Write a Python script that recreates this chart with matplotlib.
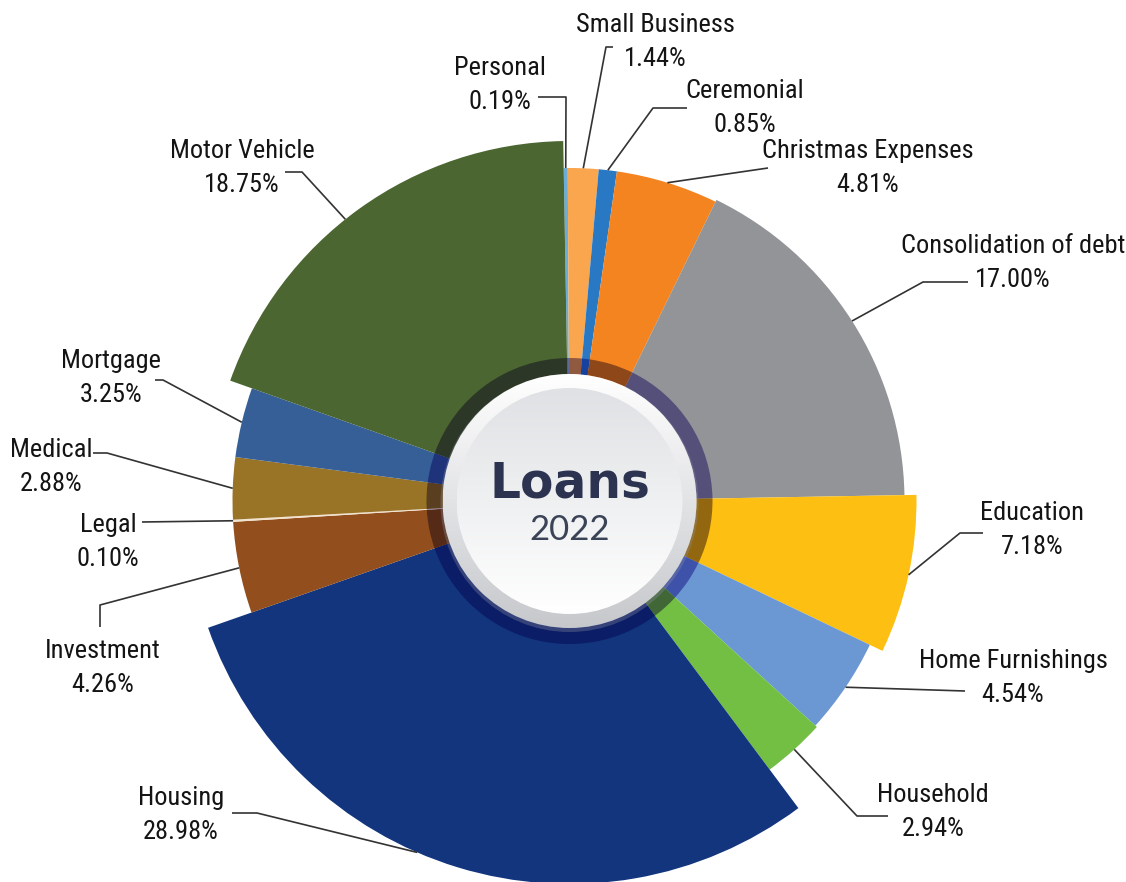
import numpy as np
import matplotlib
matplotlib.use('Agg')
import matplotlib.pyplot as plt
from matplotlib import font_manager as fm
from matplotlib.patches import Circle
from matplotlib.colors import to_rgb

# ── Loan purposes, 2022 (share of total, %) ──────────────────────────────────
categories = ['Personal', 'Small Business', 'Ceremonial', 'Christmas Expenses',
              'Consolidation of debt', 'Education', 'Home Furnishings',
              'Household', 'Housing', 'Investment', 'Legal', 'Medical',
              'Mortgage', 'Motor Vehicle']
shares = [0.19, 1.44, 0.85, 4.81, 17.00, 7.18, 4.54,
          2.94, 28.98, 4.26, 0.10, 2.88, 3.25, 18.75]

slice_colors = ['#6aaed8', '#f9a64f', '#2878c3', '#f4841f', '#929497',
                '#fdbf12', '#6b98d2', '#72bf44', '#12357e', '#924f1d',
                '#f2e3cf', '#9a7426', '#365f97', '#4b6631']

# ── Layout (pixel units, y grows downward) ───────────────────────────────────
W, H = 1126, 882
CX, CY = 569.5, 501
START = -91                      # first slice starts just left of 12 o'clock
outer_r = [333, 333, 333, 333, 335, 347, 333, 335, 383, 337, 337, 337, 337, 360]
RING_IN, RING_OUT = 127, 143
DISC_R, INNER_R = 127, 113

# label baseline of the name line; the value sits one line below
label_xy = [(500, 75), (655, 32), (745, 98), (868, 158), (1013, 253),
            (1032, 520), (1013, 668), (933, 802), (181, 805), (103, 658),
            (108, 532), (51, 457), (111, 368), (242, 158)]
# leader line points before it runs onto the slice edge
leader_pts = [[(538, 97), (566, 97)],
              [(613, 47), (606, 47)],
              [(687, 108), (653, 108)],
              [(768, 168)],
              [(968, 282), (923, 282)],
              [(983, 533), (960, 533)],
              [(965, 691)],
              [(888, 816), (857, 816)],
              [(232, 813), (257, 813)],
              [(100, 627), (100, 605)],
              [(142, 522)],
              [(93, 453), (107, 453)],
              [(155, 380), (163, 380)],
              [(285, 172), (302, 172)]]
# where along each slice's arc its leader lands (0 = start, 1 = end)
anchor_at = [0.5] * len(shares)
anchor_at[categories.index('Housing')] = 0.56
anchor_at[categories.index('Motor Vehicle')] = 0.46


def pick_narrow_font():
    """Find a condensed sans face among the installed fonts."""
    wanted = [('Liberation Sans Narrow', None),
              ('Roboto Condensed', None),
              ('Noto Sans', 'condensed'),
              ('Noto Sans', 'semi-condensed'),
              ('DejaVu Sans', 'condensed'),
              ('Open Sans', 'condensed'),
              ('Open Sans Condensed', None)]
    for name, stretch in wanted:
        for f in fm.fontManager.ttflist:
            if f.name != name or f.style != 'normal':
                continue
            if f.weight not in (400, 'normal', 'regular', 'book'):
                continue
            if stretch is not None and f.stretch != stretch:
                continue
            return fm.FontProperties(fname=f.fname), 19
    return fm.FontProperties(family='Liberation Sans'), 16.5


label_prop, label_size = pick_narrow_font()

fig = plt.figure(figsize=(W / 100, H / 100), dpi=100)
ax = fig.add_axes([0, 0, 1, 1])

wedges, _ = ax.pie(shares, colors=slice_colors, startangle=START,
                   counterclock=True, center=(CX, CY), radius=1,
                   wedgeprops=dict(linewidth=0))
for w, r in zip(wedges, outer_r):
    w.set_radius(r)

# dark multiply-style band around the centre disc
tint = np.array([0.58, 0.54, 0.81])
ring_colors = [tuple(np.array(to_rgb(c)) * tint) for c in slice_colors]
ax.pie(shares, colors=ring_colors, startangle=START, counterclock=True,
       center=(CX, CY), radius=RING_OUT,
       wedgeprops=dict(width=RING_OUT - RING_IN, linewidth=0))


def gradient_disc(r, top, bottom, z):
    t = np.linspace(0, 1, 256)[:, None] * np.ones((1, 4))
    c0, c1 = np.array(to_rgb(top)), np.array(to_rgb(bottom))
    img = c0[None, None, :] * (1 - t[..., None]) + c1[None, None, :] * t[..., None]
    im = ax.imshow(img, extent=(CX - r, CX + r, CY + r, CY - r),
                   origin='upper', zorder=z, interpolation='bilinear')
    clip = Circle((CX, CY), r, transform=ax.transData)
    im.set_clip_path(clip)


# soft shadow, bevel ring and inner face of the centre button
ax.add_patch(Circle((CX, CY + 2), DISC_R + 2, color='#8a8ca0', alpha=0.35,
                    lw=0, zorder=3))
gradient_disc(DISC_R, '#ffffff', '#c6c8cc', 4)
gradient_disc(INNER_R, '#dfe1e4', '#ffffff', 5)

ax.set_xlim(0, W)
ax.set_ylim(H, 0)
ax.set_aspect('equal')
ax.axis('off')

ax.text(CX, 498, 'Loans', ha='center', va='baseline', fontsize=35,
        fontweight='bold', family='DejaVu Sans', color='#2b3350', zorder=6)
ax.text(CX, 540, '2022', ha='center', va='baseline', fontsize=25,
        family=['Lato', 'DejaVu Sans'], color='#3b4357', zorder=6)

# labels and leader lines
total = sum(shares)
cum = np.concatenate([[0], np.cumsum(shares)]) / total
for i, name in enumerate(categories):
    x, y = label_xy[i]
    ax.text(x, y, name, ha='center', va='baseline', fontproperties=label_prop,
            fontsize=label_size, color='#141414', zorder=7)
    ax.text(x, y + 34, f'{shares[i]:.2f}%', ha='center', va='baseline',
            fontproperties=label_prop, fontsize=label_size, color='#141414',
            zorder=7)

    frac = cum[i] + anchor_at[i] * (cum[i + 1] - cum[i])
    ang = np.deg2rad(START + 360 * frac)
    end = (CX + outer_r[i] * np.cos(ang), CY + outer_r[i] * np.sin(ang))
    pts = leader_pts[i] + [end]
    xs, ys = zip(*pts)
    ax.plot(xs, ys, color='#333333', lw=1.2, solid_capstyle='butt', zorder=7)

fig.savefig('out.png', dpi=100, facecolor='white')
